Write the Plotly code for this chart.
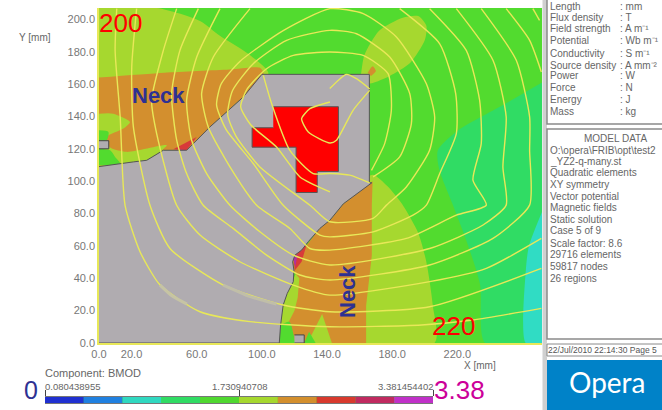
import plotly.graph_objects as go

W, H = 662, 410
FONT = "Liberation Sans"

# ---------- field regions (x, y in mm) ----------
top_left_yg = [(0,207),(35.6,207),(62,199),(74,190),(92.6,178),(104,167),(100,160),(0,109)]
neck_upper = [(0,164),(40,167),(80,169),(99,170),(101,166),(68,133),(54,119),(39,119),(29,113),(9,110),(0,109)]
neck_upper_yg = [(0,141.7),(8.8,141.7),(19,136.6),(15,132.5),(4.7,127.3),(6.4,121.1),(17,118.1),(41.6,122.2),(29.3,112.9),(8.8,109.8),(0,109.5)]
neck_upper_g1 = [(0,131.4),(5.8,130.4),(4.7,125.3),(0,125.3)]
neck_upper_g2 = [(0,120.1),(6.8,119.1),(9.9,115),(13,110.9),(0,109.8)]
hot_upper = [(45.6,119.7),(60,127.3),(53.8,119.1)]
hot_upper_tip = [(49.7,119.5),(53.8,119.1),(51.8,117.9)]
blob_top = [(161,167),(163,178),(172,193),(186.5,201),(196,202),(201,196),(200,187),(191,173),(178.5,165),(167.5,160.5),(160,160)]
blob_spot = [(165,167),(168,171),(170,168),(167,165)]
teal_right = [(272,161),(248,147),(220,131),(208,119),(209,107),(217,86),(226,62),(234,36),(237,0),(272,0)]
cyan_right = [(272,81),(264,60),(262,44),(262,0),(272,0)]
yg_lower = [(160,98),(168,104),(177,97),(186,86),(196,68),(201,50),(205,23),(206,0),(110,0),(112,17),(115,30),(119,39),(135,71)]
orange_lower = [(168,100),(167.5,85),(167.5,54),(164,23),(164,0),(143,0),(137,17.9),(128,0),(120,0),(119,7),(116,12),(120,20),(122,28),(123,40),(119,45),(119,53),(127.6,60.5),(135.6,71),(142,76),(150,86)]
green_low_left = [(110.6,0),(112,11),(117,13),(119.5,5),(120.5,0)]
green_low_mid = [(126,0),(129,7),(133,0)]
hot_lower = [(119.3,53.3),(127.4,60.5),(124.4,50.2),(120.3,45)]
hot_lower_tip = [(119,53),(122,55),(120.5,47)]
iron = [(0,0),(110.7,0),(111.5,11.1),(113.1,23.5),(115.6,30.7),(119.3,37.9),(119.7,45),(118.9,50.2),(120.3,54.3),(124.4,57.4),(128.5,62.6),(135.6,70.8),(141.8,75.9),(150,86),(167.5,99),(166,99),(166,166),(100,166),(88.6,152),(78.4,142.8),(68.1,133.5),(62,127.3),(53.8,119.1),(39.5,119.1),(29.3,112.9),(21.1,111.9),(9,110),(0,109)]
coil = [(107,146),(147,146),(147,106),(134,106),(134,93),(121,93),(121,121),(94,121),(94,133),(107,133)]
box_left = [(0,120),(6,120),(6,125),(0,125)]
box_bottom = [(120,0),(126,0),(126,5),(120,5)]

# ---------- flux contours (x, y in mm) ----------
flux_a = [(10.9,206.6),(9.9,180.8),(13,139.7),(16,85.1),(25.2,56.4),(37.5,35.8),(62,19.3),(92.7,13.2),(141.8,10),(198,11.1),(229.6,14.2),(271.6,21.4)]
flux_b = [(23.1,206.6),(20.1,170.5),(21.1,133.5),(31.3,85.1),(43.6,58.4),(76.3,35.8),(113.1,23.5),(141.8,19.3),(203,22.4),(271.6,46.1)]
flux_c = [(47.7,206.6),(39.5,180.8),(32.3,150),(35.4,129.4),(47.7,85.1),(62,66.7),(86.5,50.2),(119.3,35.8),(141.8,29.6),(203,37.9),(237.8,46.1),(271.6,64.6)]
flux_d = [(61,206.6),(49.7,180.8),(44.6,154.1),(47.7,125.3),(53.8,104.7),(64,85.1),(82.4,70.8),(102.9,54.3),(123.4,42),(141.8,38.9),(203,48.2),(241.9,64.6),(264.4,85.2),(264.4,119.1),(264.4,139.7),(256.2,174.7),(234.7,206.6)]
flux_e = [(74.3,206.6),(60,176.7),(53.8,150),(56.9,125.3),(66.1,104.7),(80.4,85.1),(98.8,68.7),(119.3,54.3),(141.8,48.2),(203,58.4),(235.8,72.9),(250,85.2),(248,108.8),(250,139.7),(241.9,174.7),(219.4,206.6)]
flux_f = [(92.7,206.6),(70.2,176.7),(63,154.1),(67.1,133.5),(80.4,108.8),(96.8,85.1),(117.2,70.8),(129.5,58.4),(141.8,57.4),(188.7,64.6),(219.4,79),(237.8,85.2),(229.6,100.6),(234.7,123.2),(233.7,150),(225.5,180.8),(203,206.6)]
flux_g = [(184.6,206.6),(209.2,184.9),(219,154.1),(219.4,129.4),(209.2,104.7),(201,85.2),(192.8,79),(168.3,68.7),(141.7,65.6),(135.6,66.7),(113.1,85.1),(94.7,110.9),(78,132),(72.2,147),(75,160),(86.5,174),(113.1,193),(141.8,206.6),(162.2,203.5),(182.6,189.1),(201,160.2),(206.1,139.7),(203,119.1),(188.7,96.4),(176.5,85.2),(168.3,77),(141.7,74.9),(129.5,85.1),(98.8,108.8),(84,128),(79,141),(82,156),(94.7,172.6),(115.2,187),(141.8,193.2),(158.1,191.1),(178.5,176.7),(190.8,154.1),(191.8,135.6),(184.6,115),(168.3,102.6)]
flux_h = [(167.3,106.7),(175.4,123.2),(179.5,143.8),(177.5,166.4),(162.2,177.7),(141.7,179.8),(119.3,177.7),(102.9,169.5),(91,157),(87,146),(93,135),(109,121.1),(123.4,102.6),(141.8,93.4)]
flux_i = [(100.9,165.4),(106,147.9),(117.2,119),(131.5,104.7),(141.7,104.7),(154,103.7),(166.2,98.9)]
flux_j = [(141.8,148.9),(129.5,144.8),(124.4,138.6),(128.5,130.4),(141.8,123.6),(145.8,125.3),(156,143.8),(166.2,156.1)]
flux_k = [(141.7,157.2),(151.9,166),(158.1,163.3),(166.2,157)]
flux_l = [(250,206.6),(264.4,187),(271.6,167.5)]
flux_m = [(266.4,206.6),(270.5,199.4)]
pale_a = [(37.5,35.8),(45,29),(54,24)]
pale_b = [(76.3,35.8),(92,29),(109,24)]

# ---------- colour scale ----------
scale_min, scale_mid, scale_max = 0.080438955, 1.730940708, 3.381454402
band_width = [0.33011] * 10
band_base = [0.080438955, 0.41055, 0.74066, 1.07077, 1.40088, 1.73094, 2.06105, 2.39116, 2.72127, 3.05138]
band_color = ["#2030D0", "#2080E0", "#30D8C0", "#30DC64", "#50D830", "#A6D82F", "#D38F2E", "#D83A2E", "#C02A60", "#C030C8"]

x_ticks = [0, 20, 60, 100, 140, 180, 220]
y_ticks = [0, 20, 40, 60, 80, 100, 120, 140, 160, 180, 200]

units_labels = ["Length", "Flux density", "Field strength", "Potential", "Conductivity", "Source density", "Power", "Force", "Energy", "Mass"]
units_values = [": mm", ": T", ": A m⁻¹", ": Wb m⁻¹", ": S m⁻¹", ": A mm⁻²", ": W", ": N", ": J", ": kg"]
model_lines = ["O:\\opera\\FRIB\\opt\\test2", "_YZ2-q-many.st", "Quadratic elements", "XY symmetry", "Vector potential",
               "Magnetic fields", "Static solution", "Case 5 of 9", "Scale factor: 8.6", "29716 elements", "59817 nodes", "26 regions"]

GREEN, YG, ORANGE, TEAL, CYAN = "#52DB2F", "#A6D82F", "#D38F2E", "#30DC64", "#30DCC4"
GRAY, RED, CRIMSON, PURPLE = "#B0ACB0", "#FF0000", "#D83A3A", "#B030A0"
FLUX = "#E8E858"

fig = go.Figure()


def region(points, color, edge=None, smooth=False):
    xs = [p[0] for p in points]
    ys = [p[1] for p in points]
    line = dict(color=edge or color, width=1 if edge else 0)
    if smooth:
        line.update(shape="spline", smoothing=0.7)
    fig.add_trace(go.Scatter(x=xs, y=ys, mode="lines", fill="toself", fillcolor=color, line=line,
                             hoverinfo="skip", showlegend=False))


def contour(points, color=FLUX, width=1.4):
    fig.add_trace(go.Scatter(x=[p[0] for p in points], y=[p[1] for p in points], mode="lines",
                             line=dict(color=color, width=width, shape="spline", smoothing=0.6),
                             hoverinfo="skip", showlegend=False))


region([(0, 0), (272, 0), (272, 207), (0, 207)], GREEN)
region(teal_right, TEAL, smooth=True)
region(cyan_right, CYAN, smooth=True)
region(top_left_yg, YG, smooth=True)
region(blob_top, YG, smooth=True)
region(blob_spot, ORANGE, smooth=True)
region(neck_upper, ORANGE, smooth=True)
region(neck_upper_yg, YG, smooth=True)
region(neck_upper_g1, GREEN, smooth=True)
region(neck_upper_g2, GREEN, smooth=True)
region(hot_upper, CRIMSON)
region(hot_upper_tip, PURPLE)
region(yg_lower, YG, smooth=True)
region(orange_lower, ORANGE)
region(green_low_left, GREEN, smooth=True)
region(green_low_mid, GREEN)
region(hot_lower, CRIMSON)
region(hot_lower_tip, PURPLE)
region(iron, GRAY, "#555555")
region(coil, RED, "#555555")
region(box_left, GRAY, "#444444")
region(box_bottom, GRAY, "#444444")
for line in [flux_a, flux_b, flux_c, flux_d, flux_e, flux_f, flux_g, flux_h, flux_i, flux_j, flux_k, flux_l, flux_m]:
    contour(line)
contour(pale_a, "#C6C4A4", 3)
contour(pale_b, "#C0BEA8", 3)

# colour scale strip
fig.add_trace(go.Bar(x=band_width, base=band_base, y=[0] * len(band_width), orientation="h",
                     marker=dict(color=band_color, line=dict(width=0)), width=1,
                     xaxis="x2", yaxis="y2", hoverinfo="skip", showlegend=False))


def px(x):
    return x / W


def py(y):
    return 1 - y / H


def label(x, y, text, size=10, color="#666666", anchor="left", bold=False, angle=0, font=FONT):
    fig.add_annotation(xref="paper", yref="paper", x=px(x), y=py(y), text=f"<b>{text}</b>" if bold else text,
                       showarrow=False, xanchor=anchor, yanchor="middle", textangle=angle,
                       font=dict(family=font, size=size, color=color), borderpad=0, borderwidth=0)


def box(x0, y0, x1, y1, fill, edge=None, width=1):
    fig.add_shape(type="rect", xref="paper", yref="paper", x0=px(x0), x1=px(x1), y0=py(y0), y1=py(y1),
                  fillcolor=fill, line=dict(color=edge or fill, width=width if edge else 0), layer="above")


# side panels
box(542.5, 0, 547, 410, "#D0D0D0")
box(547, -2, 664, 124, "#FFFFFF", "#8A8A8A", 1.5)
box(547, 129, 664, 339, "#FFFFFF", "#8A8A8A", 1.5)
box(547, 344, 664, 356, "#FFFFFF", "#8A8A8A", 1)
box(547, 360, 662, 410, "#0082C8")

# units panel
units_y = [6, 17, 29, 41, 53, 65, 76, 88, 99, 111]
for lab, val, yy in zip(units_labels, units_values, units_y):
    label(550, yy, lab)
    label(620, yy, val)

label(615, 138, "MODEL DATA", anchor="center")
model_y = [150, 161.5, 173, 184.5, 196, 207.5, 219, 231, 243, 254.5, 266, 278]
for text, yy in zip(model_lines, model_y):
    label(550, yy, text)
label(548, 350, "22/Jul/2010 22:14:30 Page 5", size=8.5, color="#555555")
label(607, 382, "Opera", size=28, color="#FFFFFF", anchor="center", font="Lato")

# axis captions and scale labels
label(35, 38, "Y [mm]", size=10, anchor="center")
label(480, 365, "X [mm]", size=10, anchor="center")
label(45, 373, "Component: BMOD", size=11)
label(45, 386, f"{scale_min:.9f}", size=9.5)
label(239, 386, f"{scale_mid:.9f}", size=9.5, anchor="center")
label(433, 386, f"{scale_max:.9f}", size=9.5, anchor="right")

# slide overlay labels
label(120, 23, "200", size=26, color="#FF0000", anchor="center")
label(454, 326, "220", size=26, color="#FF0000", anchor="center")
label(31, 390, "0", size=25, color="#2E3192", anchor="center")
label(459, 390, "3.38", size=26, color="#CC0099", anchor="center")
label(158, 95, "Neck", size=22, color="#2E3192", anchor="center", bold=True)
label(347, 292, "Neck", size=22, color="#2E3192", anchor="center", bold=True, angle=-90)

tick_font = dict(family=FONT, size=11, color="#777777")
fig.update_layout(
    width=W, height=H, margin=dict(l=0, r=0, t=0, b=0), autosize=False,
    paper_bgcolor="#FFFFFF", plot_bgcolor=GREEN, barmode="overlay",
    xaxis=dict(domain=[px(99), px(542)], range=[0, 272], tickvals=x_ticks, automargin=False,
               ticktext=[f"{v:.1f}" for v in x_ticks], showgrid=False, zeroline=False, showline=True,
               linecolor=FLUX, linewidth=1.5, ticks="", tickfont=tick_font, anchor="y"),
    yaxis=dict(domain=[py(343), py(8)], range=[0, 207], tickvals=y_ticks, automargin=False,
               ticktext=[f"{v:.1f}" for v in y_ticks], showgrid=False, zeroline=False, showline=True,
               linecolor=FLUX, linewidth=1.5, ticks="", tickfont=tick_font, anchor="x"),
    xaxis2=dict(domain=[px(45), px(433)], range=[scale_min, scale_max], anchor="y2", side="top", automargin=False,
                tickvals=[scale_min, scale_mid, scale_max], ticks="outside", ticklen=6, tickwidth=1,
                tickcolor="#444444", showticklabels=False, showgrid=False, zeroline=False,
                showline=True, linecolor="#777777", mirror=True),
    yaxis2=dict(domain=[py(403), py(397)], range=[-0.5, 0.5], anchor="x2", visible=False, automargin=False),
)

fig.write_html("out.html", post_script="document.body.style.margin='0';", config={"displayModeBar": False})
